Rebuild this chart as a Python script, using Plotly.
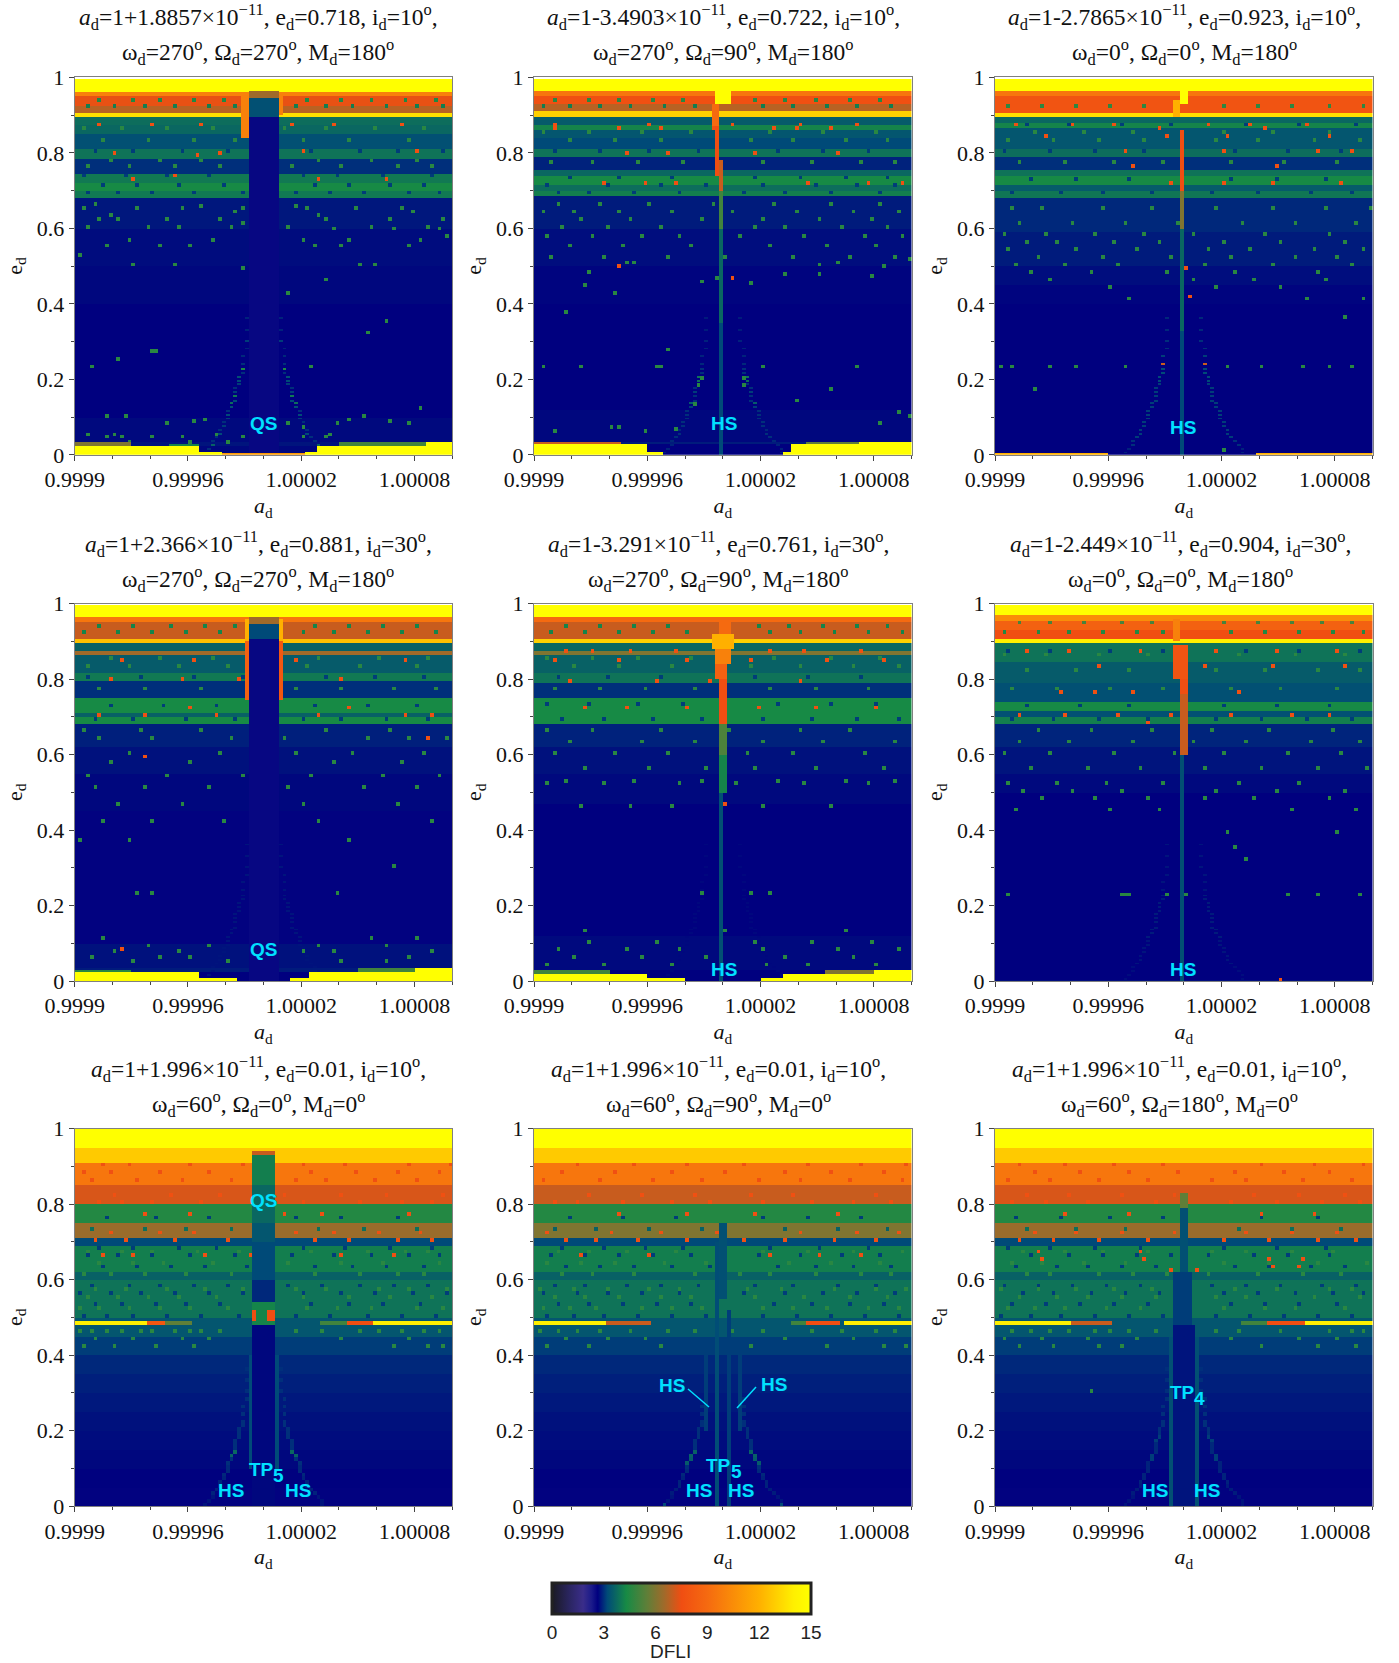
import numpy as np
import plotly.graph_objects as go

W, H = 1399, 1663
COL_X = [74.7, 534.0, 995.0]
ROW_Y = [77.3, 603.5, 1128.6]
SIZE = 377.5

X_TICKS = [0.9999, 0.99996, 1.00002, 1.00008]
X_TICK_TEXT = ["0.9999", "0.99996", "1.00002", "1.00008"]
Y_TICKS = [0, 0.2, 0.4, 0.6, 0.8, 1]
Y_TICK_TEXT = ["0", "0.2", "0.4", "0.6", "0.8", "1"]
CBAR_TICKS = [0, 3, 6, 9, 12, 15]

TITLE_A = ["1+1.8857", "1-3.4903", "1-2.7865", "1+2.366", "1-3.291", "1-2.449", "1+1.996", "1+1.996", "1+1.996"]
TITLE_E = ["0.718", "0.722", "0.923", "0.881", "0.761", "0.904", "0.01", "0.01", "0.01"]
TITLE_I = [10, 10, 10, 30, 30, 30, 10, 10, 10]
TITLE_W = [270, 270, 0, 270, 270, 0, 60, 60, 60]
TITLE_O = [270, 90, 0, 270, 90, 0, 0, 90, 180]
TITLE_M = [180, 180, 180, 180, 180, 180, 0, 0, 0]
TITLE_CX = [258, 723, 1184, 258, 718, 1180, 258, 718, 1179]

# step profiles of DFLI against e_d: upper band edge, value
P1_E = [.003,.024,.035,.1,.4,.5,.6,.68,.70,.72,.745,.785,.81,.85,.875,.895,.906,.925,.95,.962,.995]
P1_V = [2.7,2.7,2.8,2.72,2.65,2.7,2.74,2.82,4.0,4.3,4.0,3.0,3.9,3.3,3.7,3.8,13.5,6.8,7.4,10,15]
P2_E = [.028,.036,.12,.4,.5,.6,.685,.70,.715,.74,.755,.79,.81,.84,.86,.875,.896,.908,.932,.95,.967,.995]
P2_V = [2.65,2.85,2.7,2.65,2.68,2.75,2.85,4.1,3.8,4.3,3.7,2.9,3.9,3.2,3.4,4.2,3.5,13,6.8,7.6,9.5,15]
P3_E = [.003,.4,.45,.5,.59,.68,.70,.715,.74,.755,.79,.81,.865,.88,.895,.905,.95,.967,.995]
P3_V = [2.65,2.65,2.68,2.75,2.85,2.95,3.95,3.5,4.3,3.9,3.0,3.8,3.4,4.2,3.7,13.5,7.8,9.5,15]
P4_E = [.023,.033,.1,.45,.55,.62,.68,.70,.71,.75,.795,.815,.865,.875,.89,.897,.907,.95,.965,.995]
P4_V = [2.65,2.85,2.78,2.62,2.7,2.78,2.88,4.3,3.6,4.3,3.0,4.0,3.5,6.5,3.6,3.6,12.5,7,9.5,15]
P5_E = [.03,.12,.47,.55,.62,.68,.75,.79,.815,.865,.875,.89,.897,.907,.95,.965,.995]
P5_V = [2.65,2.72,2.65,2.72,2.78,2.9,4.3,3.0,3.9,3.6,6,3.7,3.7,13,7,9,15]
P6_E = [.005,.5,.55,.62,.68,.70,.715,.74,.79,.845,.895,.906,.93,.955,.97,.995]
P6_V = [2.75,2.65,2.72,2.8,2.92,4.1,3.3,4.3,3.3,3.5,3.9,14,7.5,8.5,10.5,15]
P7_E = [.05,.1,.15,.2,.25,.3,.35,.4,.45,.485,.495,.6,.62,.695,.71,.75,.795,.85,.91,.95,.995]
P7_V = [2.62,2.66,2.7,2.74,2.78,2.83,2.88,2.95,3.1,3.4,3.4,3.9,3.6,4.1,3.2,6.4,4.5,7.2,9.5,12.8,15]
P8_E = P7_E
P8_V = [2.62,2.66,2.7,2.74,2.78,2.83,2.88,2.95,3.1,3.4,3.4,3.9,3.6,4.1,3.2,6.0,4.5,7.0,9.5,12.8,15]
P9_E = P7_E
P9_V = [2.62,2.66,2.7,2.74,2.78,2.83,2.88,2.95,3.1,3.4,3.4,3.9,3.6,4.1,3.2,6.4,4.5,7.2,9.5,12.8,15]

# rectangles: a-1 from, a-1 to (1e-5), e from, e to, DFLI
P1_RECTS = [(-10,-3.36,0,.024,15),(-3.36,-2.2,0,.012,15),(-2.2,2.2,0,.003,11),(2.25,2.9,0,.012,15),(2.9,8.7,0,.024,15),(8.7,10,0,.033,15),
            (-10,-7,.024,.034,6),(-5,-3.4,.024,.03,4.2),(4,8.7,.024,.034,5),
            (-.85,.85,.003,.897,2.55),(-.85,.85,.897,.965,3.3),(-.85,.85,.945,.965,6.5),(-1.1,-.8,.84,.96,10),(.8,1.1,.9,.96,10)]
P2_RECTS = [(-10,-4.04,0,.028,15),(-4.04,-3.15,0,.012,15),(3.28,3.7,0,.012,15),(3.7,7.3,0,.028,15),(7.3,10,0,.036,15),
            (-10,-5.4,.028,.036,7),(4.5,7.3,.028,.034,5.5),(-.4,.4,.93,.975,15),
            (-.2,0,0,.35,3.2),(-.2,0,.35,.6,3.7),(-.2,0,.6,.7,5),(-.4,-.2,.74,.88,7.5),(-.2,.0,.7,.78,7),(-.6,-.2,.87,.93,9)]
P3_RECTS = [(-10,-3.9,0,.003,12),(3.8,10,0,.003,12),(-.2,.2,.93,.97,15),(-.2,0,0,.33,3.2),(-.2,0,.33,.6,3.7),(-.2,0,.6,.7,6),(-.2,.0,.7,.86,7.5),(-.6,-.2,.895,.94,12)]
P4_RECTS = [(-10,-3.4,0,.023,15),(-3.4,-1.43,0,.012,15),(1.4,2.5,0,.012,15),(2.5,8,0,.023,15),(8,10,0,.033,15),
            (-10,-7,.023,.03,4.6),(5.1,8,.023,.033,5),(8,10,.033,.037,12),
            (-.75,.72,0,.905,2.55),(-.75,.72,.905,.965,3.2),(-.75,.72,.945,.965,6.5),(-1.0,-.75,.9,.96,12),(-1.0,-.75,.745,.9,8.5),(.72,1.0,.9,.96,12),(.72,1.0,.745,.9,8)]
P5_RECTS = [(-10,-3.9,0,.018,15),(-3.9,-2,0,.012,15),(2,3.2,0,.012,15),(3.2,8.1,0,.018,15),(8.1,10,0,.03,15),
            (-10,-6,.018,.03,5),(5.5,8.1,.018,.03,6),(-.2,0,0,.5,3.3),(-.2,.2,.5,.6,4.2),(-.2,.2,.6,.68,5.2),
            (-.2,.2,.68,.76,7.5),(-.2,.2,.76,.8,7.5),(-.4,.2,.8,.84,8.5),(-.4,.4,.84,.88,10),(-.6,.6,.88,.92,12),(-.2,.4,.92,.95,9)]
P6_RECTS = [(-.2,0,0,.6,3.3),(-.2,.2,.6,.76,7),(-.2,.2,.76,.8,7.5),(-.6,.2,.8,.89,7.8),(-.6,-.2,.9,.96,10)]
P7_RECTS = [(-10,-6.1,.485,.495,14),(-6.1,-5.2,.485,.495,8),(-5.2,-3.8,.485,.495,5.5),(3,4.5,.485,.495,5),(4.5,5.8,.485,.495,7.5),(5.8,10,.485,.495,14),
            (-.63,.51,.54,.6,2.95),(-.63,.51,.6,.7,3.2),(-.63,.51,.7,.75,3.4),(-.63,.51,.75,.85,3.7),(-.63,.51,.85,.93,4.1),(-.63,.51,.93,.945,7),
            (-.63,.51,.0,.485,2.7),(-.63,.51,.485,.54,4.2),(-.63,-.3,.49,.52,7.5),(.2,.51,.49,.52,7.5),(-.9,-.63,.1,.4,3.2),(.51,.8,.1,.4,3.2)]
P8_RECTS = [(-10,-6.1,.485,.495,14),(-6.1,-3.8,.485,.495,7),(3.6,4.5,.485,.495,5),(4.5,6.2,.485,.495,7.5),(6.5,10,.485,.495,14),
            (-.4,-.2,0,.7,3.25),(.2,.4,0,.52,3.1),(-1,-.8,.2,.42,3.1),(.8,1,.2,.42,3.1),(-.2,.2,.55,.75,3.3)]
P9_RECTS = [(-10,-6,.485,.495,14),(-6,-3.8,.485,.495,7),(3,4.5,.485,.495,5),(4.5,6.4,.485,.495,7.5),(6.4,10,.485,.495,14),
            (-.6,.6,.0,.485,2.8),(-.6,.4,.485,.62,3.1),(-.2,.2,.62,.795,3.3),(-.2,.2,.795,.83,5.5),(-.8,-.6,.0,.45,3.3),(.6,.8,.0,.45,3.3)]

# faint wing curves: e_d, |a-1| in 1e-5
WING_E = [.005,.015,.025,.035,.045,.055,.065,.075,.085,.095,.105,.115,.125,.135,.145,.155,.165,.175,.185,.195,.205,.215,.225,.24,.26,.28,.30,.33,.36]
WING_A = [3.2,3.0,2.8,2.65,2.5,2.35,2.25,2.15,2.05,1.95,1.85,1.8,1.7,1.65,1.6,1.5,1.45,1.4,1.35,1.3,1.25,1.2,1.15,1.1,1.05,1.0,.95,.9,.85]
P1_WING_V = [3.0,3.0,3.6,3.0,3.0,3.2,3.0,3.1,3.0,3.1,3.2,3.0,3.3,3.8,3.2,4.0,3.1,3.0,3.1,3.2,3.3,3.0,4.4,3.0,2.95,2.9,3.1,2.9,2.9]
P2_WING_V = [2.9,2.9,2.9,2.95,3.0,3.0,2.95,3.0,3.0,3.0,3.0,3.0,3.1,3.5,3.0,3.0,3.1,3.0,3.0,3.8,3.9,3.0,3.0,2.95,2.9,2.9,2.9,2.85,2.85]
P3_WING_V = [2.9,2.9,3.0,3.0,3.1,3.1,3.1,3.1,3.1,3.1,3.1,3.1,3.1,3.1,3.1,3.1,3.1,3.1,3.1,3.2,3.2,3.2,3.2,7.0,3.1,3.0,3.0,2.95,2.95]
P4_WING_V = [2.8,2.8,2.8,2.8,2.8,2.8,2.8,2.8,2.8,2.8,2.8,2.8,2.8,2.8,2.8,2.8,2.8,2.8,2.8,2.8,2.8,2.8,2.8,2.8,2.8,2.8,2.8,2.8,2.8]
P5_WING_V = [2.7,2.7,2.7,2.7,2.7,2.7,2.7,2.7,2.7,2.7,2.7,2.7,2.7,2.7,2.7,2.7,2.7,2.7,2.7,2.7,2.7,2.7,2.7,2.7,2.7,2.7,2.7,2.7,2.7]
P6_WING_V = [2.75,2.75,2.75,2.75,2.8,2.8,2.8,2.8,2.8,2.8,2.8,2.85,2.85,2.85,2.85,2.85,2.85,2.85,2.85,2.85,2.85,2.85,2.85,2.8,2.8,2.8,2.8,2.8,2.8]
P7_WING_V = [2.8,2.8,2.8,2.9,2.9,2.9,2.9,2.9,2.95,2.95,2.95,3.0,3.0,3.6,3.7,3.0,3.0,3.0,3.0,3.0,3.0,3.0,3.0,3.0,3.0,3.0,3.0,3.0,3.0]
P8_WING_V = [3.2,2.8,2.8,2.85,2.85,2.9,2.9,2.9,2.95,2.95,3.0,3.5,3.5,3.6,3.6,3.0,3.0,3.0,3.0,3.0,3.0,3.0,3.0,3.0,3.0,3.0,3.0,3.0,3.0]
P9_WING_V = [2.8,2.8,2.8,2.85,2.85,2.85,2.9,2.9,2.9,2.9,2.9,2.9,3.1,3.1,2.95,2.95,2.95,3.1,3.1,3.0,3.0,3.0,3.0,3.0,3.0,3.0,3.0,3.0,3.0]

# individually legible cells: {e_d: [column 0-99]}
P1_DOTS = {.03:[14,30,40,52],.045:[8,12,20,28,44,60,66],.05:[3,10,37,67],.07:[60],.08:[24,69,56,88],.088:[31,83],.09:[34,72],.1:[8,13,76,50],.122:[91],.234:[4,62],.25:[11],.27:[20,21],.32:[77],.35:[82],
           .428:[56],.463:[66],.494:[44],.5:[26,79],.503:[15,75],.525:[1],.547:[46],.578:[98],.596:[68,84,96],.613:[44],.622:[6,38],.63:[9,64],.64:[89],.644:[42],.657:[33,58],.66:[5],
           .55:[8,22,30,52,63,70,88],.57:[14,36,47,60,72,91],.6:[3,19,27,41,56,78,93],.62:[11,24,49,66,83,97],.65:[2,16,28,44,61,74,86],.76:[3,14,26,38,57,70,85,94],.83:[7,19,31,42,60,72,88],.86:[2,12,24,36,55,66,79,92],.775:[9,22,33,64,78,90]}
P1_HOT = {.728:[15,64,82],.737:[26],.795:[10,38],.79:[32],.8:[60,90],.843:[46],.87:[6,20,33,57,68,86],.913:[46]}
P1_DARK = {.69:[3,11,20,31,44,58,67,76,88,96],.71:[7,16,27,39,63,72,83,92],.735:[2,13,24,35,60,69,81,94],.8:[5,15,28,40,62,75,85,97],.92:[3,10,18,26,35,42,58,66,73,82,90,97],.935:[6,15,22,31,39,61,70,78,87,95]}
P2_DOTS = {.06:[5,29],.066:[37],.072:[20,22],.081:[91],.1:[99],.112:[96],.132:[42],.143:[69],.172:[78],.184:[43,55],.203:[44,55],.234:[2,12,32,33,60,85],.275:[35],.377:[8],.425:[21],.447:[13],.453:[57],.457:[44],.47:[48],.471:[89],.476:[66,75],.484:[14],.498:[92],.503:[75],.507:[24,26,80],.515:[99],
           .52:[4,18,35,50,68,83,95],.55:[9,23,41,62,77,90],.58:[3,15,28,38,54,71,87,97],.6:[7,19,33,58,66,81,93],.62:[12,25,44,60,75,89],.64:[2,10,22,36,52,69,84,96],.66:[6,17,30,47,63,78,91],.77:[4,15,27,39,60,73,86,95],.83:[9,21,33,57,68,82,93],.85:[2,14,28,41,62,76,90]}
P2_HOT = {.466:[52],.498:[22],.715:[18,29,37,72,88,97],.795:[24,35,58,80],.86:[5,22,33,47,63,69,78],.87:[5,30,52,70,85]}
P2_DARK = {.69:[6,14,26,38,55,66,78,91],.71:[3,19,33,45,60,74,85,95],.73:[9,22,36,58,70,82,93],.8:[5,17,30,43,64,76,88],.92:[2,9,17,25,34,42,60,68,77,85,94],.94:[5,14,22,31,39,58,66,74,83,91]}
P3_DOTS = {.01:[60],.17:[10],.234:[1,4,14,21,34,61,70,81,88,94],.36:[92],.41:[35,82,97],.44:[30,58,75],.46:[14,52,68,87],.48:[9,25,45,63,85],.5:[5,18,32,55,73,94],.52:[11,28,46,62,79,90],.54:[3,21,37,56,67,84,97],.56:[8,16,31,43,60,75,92],.585:[2,13,26,39,52,71,88],.61:[6,20,34,48,65,79,95],.65:[4,12,28,41,58,73,87,99],.77:[6,18,31,44,62,76,90],.83:[3,15,27,39,58,69,84,96],.85:[10,23,36,60,73,88]}
P3_HOT = {.415:[51],.49:[50],.715:[46,60,73,91],.76:[36,74],.8:[34,60,85,94],.84:[13,45,61,88],.87:[5,20,31,56,67,82],.86:[43,71]}
P3_DARK = {.69:[4,17,28,41,57,69,83,94],.725:[9,21,35,62,74,87],.8:[2,14,26,39,63,77,91],.87:[8,19,33,46,66,80,95],.92:[3,12,21,30,39,60,69,78,88,97]}
P4_DOTS = {.05:[15,40,70,82],.06:[4,22,30,50,88],.075:[10,27,60,68,94],.09:[19,35,64,82],.11:[7,78,90],.234:[16,20,69],.3:[84],.37:[1,14,53,72],.42:[7,20,39,64,94],.47:[11,28,48,60,85],.51:[5,18,35,56,76,90],.54:[3,24,44,62,81,96],.58:[9,30,50,68,86],.6:[14,38,58,73,92],.64:[6,20,41,55,77,88,98],.66:[2,17,33,46,66,83],.77:[6,18,33,58,70,84,95],.83:[3,14,27,40,61,75,90],.85:[9,22,36,64,80,93]}
P4_HOT = {.08:[12],.7:[6,18,37,64,87,94],.72:[30,47,72],.595:[18],.64:[93],.795:[9,28,43,70],.845:[12,31,58,87]}
P4_DARK = {.69:[5,15,29,42,60,70,82,93],.725:[9,23,37,63,77,90],.8:[3,17,31,44,66,79,92],.92:[2,11,20,29,38,60,68,77,86,95],.94:[6,15,25,34,42,63,72,81,90]}
P5_DOTS = {.04:[3,18,36,61,72,90],.06:[10,28,45,66,84],.08:[6,24,38,60,80,96],.1:[14,32,58,73,89],.13:[13,50,82],.23:[44,57,62],.46:[12,25,36,60,78],.52:[3,18,38,53,71,88],.525:[8,26,44,64,82,95],.56:[13,30,45,58,74,92],.6:[5,21,35,56,68,87],.63:[9,28,42,60,76,95],.66:[3,15,33,51,70,83],.77:[5,17,29,42,62,74,88],.83:[10,22,36,57,70,84,96],.85:[3,15,27,41,63,78,91]}
P5_HOT = {.47:[50],.72:[13,24,40,59,74,90],.79:[9,32,46,70],.845:[5,22,40,57,77,92],.87:[8,15,25,37,62,71,86]}
P5_DARK = {.69:[7,18,31,44,60,73,85,96],.73:[3,14,27,39,64,78,90],.8:[6,19,33,58,72,86],.92:[4,13,22,31,40,62,70,79,88,97],.94:[8,17,26,35,59,67,76,85,93]}
P6_DOTS = {.226:[3,33,34,35,45,50,77,85,96],.32:[66],.35:[63],.39:[61,90],.45:[5,30,43,78,95],.48:[12,26,40,55,68,88],.5:[7,20,33,58,74,92],.52:[3,16,29,44,64,80],.56:[9,24,38,55,70,85,98],.6:[2,14,31,47,60,77,91],.63:[6,19,36,52,66,83,96],.66:[11,25,41,57,72,89],.77:[4,16,30,44,62,75,90],.82:[8,21,35,58,71,85,96],.86:[2,13,27,40,64,79,92]}
P6_HOT = {.003:[75],.68:[40],.7:[6,18,32,46,62,78,88],.76:[17,26,36,64],.83:[27,55,73,92],.87:[8,19,38,58,74,90]}
P6_DARK = {.69:[4,15,27,40,58,70,82,94],.725:[8,22,35,60,74,88],.87:[3,14,30,44,66,80,96],.92:[2,11,19,28,37,44,62,71,80,89,97],.945:[6,14,23,33,41,60,69,78,86,94]}
P7_DOTS = {.42:[2,10,21,31,84,93,97],.44:[5,15,28,35,70,88],.46:[1,8,20,26,33,65,80,92],.47:[4,12,17,30,38,58,75,86,96],
           .52:[1,6,14,22,30,40,61,69,78,90,97],.55:[3,11,19,27,37,60,72,83,94],.58:[5,13,24,34,44,58,66,80,88,98],.61:[2,9,18,29,41,63,75,85,92],.64:[6,15,23,36,47,56,70,81,96],.67:[3,12,20,32,43,62,77,87,93]}
P7_HOT = {.66:[7,15,34,46,70,84],.70:[5,13,26,40,63,72,85,94],.72:[9,22,31,58,68,80,91],.77:[18,30,55,65,88],.8:[6,12,20,33,47,60,75,86,94],.82:[10,25,38,55,70,82,97],.86:[4,16,28,41,58,66,79,90],.88:[2,9,22,35,48,62,74,85,96],.9:[7,14,30,44,60,71,88,99]}
P7_DARK = {.5:[2,8,15,24,33,43,58,67,77,86,95],.53:[5,12,21,29,38,62,72,81,91],.56:[1,9,17,26,35,44,60,70,79,89,98],.59:[4,14,22,31,40,56,65,75,84,93],.63:[7,16,25,34,45,63,73,82,92],.66:[3,11,20,30,42,57,68,78,88,96],.68:[6,15,27,37,60,71,83,94],.73:[4,18,29,41,64,76,90],.76:[8,21,35,58,70,85]}
P8_DOTS = {.42:[3,14,33,57,77,92,98],.44:[8,19,29,48,66,84],.46:[1,11,25,42,60,81,90],.47:[6,17,35,52,73,95],
           .52:[2,9,16,28,36,44,60,68,77,88,96],.55:[5,13,22,33,41,58,71,83,93],.58:[1,10,19,30,38,56,65,79,90,98],.61:[7,15,26,42,54,62,74,86,94],.64:[3,12,21,34,45,67,78,91],.67:[6,14,24,37,50,60,72,84,97]}
P8_HOT = {.66:[12,30,50,62,75,86],.70:[8,16,27,40,55,66,79,90],.72:[3,20,33,48,70,85,96],.77:[22,40,58,80],.8:[5,11,23,36,46,60,73,84,94],.82:[14,28,42,57,68,90],.86:[2,17,31,44,59,70,83,97],.88:[7,21,36,50,66,78,92],.9:[11,26,40,55,72,86,98]}
P8_DARK = {.5:[3,10,18,27,36,45,60,69,78,87,96],.53:[6,14,23,32,41,63,73,83,92],.56:[2,11,19,28,38,55,66,76,85,95],.59:[5,13,24,33,43,58,68,80,90],.63:[8,17,26,36,46,64,74,84,94],.66:[4,13,22,31,41,59,70,81,91],.68:[7,18,29,39,62,75,88],.73:[5,16,30,44,66,80,93],.76:[9,23,37,60,72,86]}
P9_DOTS = {.3:[25],.42:[6,15,27,33,70,85,95],.44:[2,12,24,37,62,80,90],.46:[9,19,30,42,58,75,97],.47:[4,14,26,35,64,88,94],
           .52:[3,10,18,29,38,60,71,79,92],.55:[6,16,24,33,42,58,66,84,96],.58:[1,11,21,31,41,63,74,88,94],.61:[8,14,27,36,45,56,69,81,91],.64:[4,12,23,34,60,72,85,98],.67:[7,18,28,40,57,66,78,89]}
P9_HOT = {.62:[46,53],.63:[73,80],.65:[12,39,72,81],.67:[11,38],.70:[6,15,27,40,60,72,85,95],.72:[10,21,33,47,66,78,90],.77:[18,35,70,84],.8:[4,13,24,42,62,74,86,96],.82:[8,19,33,47,68,80,92],.86:[3,14,27,40,57,66,81,94],.88:[10,22,35,48,63,76,88],.9:[6,18,31,44,70,84,97]}
P9_DARK = {.5:[1,9,17,26,35,44,58,67,76,85,94],.53:[4,13,22,31,40,62,71,80,90],.56:[7,15,25,34,43,60,69,79,89,97],.59:[2,11,20,29,38,57,66,75,86,95],.63:[5,16,24,33,42,63,72,83,92],.66:[9,19,28,37,46,56,68,77,88],.68:[3,14,26,38,60,74,87],.73:[8,21,34,64,78,91],.76:[5,17,30,44,70,85]}

PANEL_E = [P1_E, P2_E, P3_E, P4_E, P5_E, P6_E, P7_E, P8_E, P9_E]
PANEL_V = [P1_V, P2_V, P3_V, P4_V, P5_V, P6_V, P7_V, P8_V, P9_V]
PANEL_RECTS = [P1_RECTS, P2_RECTS, P3_RECTS, P4_RECTS, P5_RECTS, P6_RECTS, P7_RECTS, P8_RECTS, P9_RECTS]
PANEL_DOTS = [P1_DOTS, P2_DOTS, P3_DOTS, P4_DOTS, P5_DOTS, P6_DOTS, P7_DOTS, P8_DOTS, P9_DOTS]
PANEL_HOT = [P1_HOT, P2_HOT, P3_HOT, P4_HOT, P5_HOT, P6_HOT, P7_HOT, P8_HOT, P9_HOT]
PANEL_DARK = [P1_DARK, P2_DARK, P3_DARK, P4_DARK, P5_DARK, P6_DARK, P7_DARK, P8_DARK, P9_DARK]
PANEL_WING = [P1_WING_V, P2_WING_V, P3_WING_V, P4_WING_V, P5_WING_V, P6_WING_V, P7_WING_V, P8_WING_V, P9_WING_V]

N_COL = 100
SCALE = [(0, "#1a1a22"), (1.0, "#2a2560"), (1.8, "#3a2d8a"), (2.3, "#1a1a8a"), (2.65, "#00007f"), (3.2, "#004a78"),
         (4.3, "#178a45"), (5.5, "#5f7f38"), (6.5, "#a06a2a"), (7.5, "#f04e12"), (9, "#f56a10"), (12, "#ffb000"), (14, "#fff000"), (15, "#ffff00")]

FONT = "Liberation Serif"
CYAN = "#00e0ff"


def put(z, e0, c, v, de, n_row, tall):
    i = min(int(e0 / de), n_row - 1)
    z[i, c] = v
    if tall and i + 1 < n_row:
        z[i + 1, c] = v


def panel_matrix(k):
    n_row = 200 if k < 6 else 100
    tall = k < 6
    de = 1.0 / n_row
    e = (np.arange(n_row) + .5) * de
    a = -10 + (np.arange(N_COL) + .5) * .2
    z = np.full((n_row, N_COL), np.nan)
    tops = np.array(PANEL_E[k])
    vals = np.array(PANEL_V[k], dtype=float)
    for i, ei in enumerate(e):
        j = np.searchsorted(tops, ei)
        if j < len(vals):
            z[i, :] = vals[j]
    for ew, aw, vw in zip(WING_E, WING_A, PANEL_WING[k]):
        i = min(int(ew / de), n_row - 1)
        for sign in (-1, 1):
            z[i, int((sign * aw + 10) / .2)] = vw
    for e0, cols in PANEL_DARK[k].items():
        for c in cols:
            i = min(int(e0 / de), n_row - 1)
            put(z, e0, c, max(3.1, .6 * z[i, c]), de, n_row, tall)
    for table, v in ((PANEL_DOTS[k], 4.6), (PANEL_HOT[k], 7.6)):
        for e0, cols in table.items():
            for c in cols:
                put(z, e0, c, v, de, n_row, tall)
    for a0, a1, e0, e1, v in PANEL_RECTS[k]:
        mask_a = (a >= a0) & (a < a1)
        mask_e = (e >= e0) & (e < e1)
        z[np.ix_(mask_e, mask_a)] = v
    return 1 + a * 1e-5, e, z


fig = go.Figure()
layout = {}
ann = []
shapes = []


def px(x):
    return x / W


def py(y):
    return 1 - y / H


def label(text, x, y, size=19):
    ann.append(dict(text=text, x=px(x), y=py(y), xref="paper", yref="paper", showarrow=False,
                    xanchor="center", yanchor="middle",
                    font=dict(family="Liberation Sans", size=size, color=CYAN, weight="bold")))


for k in range(9):
    col, row = k % 3, k // 3
    sx = "" if k == 0 else str(k + 1)
    a, e, z = panel_matrix(k)
    fig.add_trace(go.Heatmap(x=a, y=e, z=z, coloraxis="coloraxis", xaxis="x" + sx, yaxis="y" + sx, hoverongaps=False))
    left, top = COL_X[col], ROW_Y[row]
    axis_common = dict(showgrid=False, zeroline=False, showline=True, linecolor="#808080", linewidth=1,
                       mirror=True, ticks="outside", tickcolor="#444444", ticklen=5, tickwidth=1,
                       tickfont=dict(family=FONT, size=22, color="#111111"))
    layout["xaxis" + sx] = dict(axis_common, anchor="y" + sx, domain=[px(left), px(left + SIZE)], range=[0.9999, 1.0001],
                                tickmode="array", tickvals=X_TICKS, ticktext=X_TICK_TEXT,
                                minor=dict(tickmode="array", tickvals=[0.99992, 0.99994, 0.99998, 1.0, 1.00004, 1.00006, 1.0001],
                                           ticks="outside", ticklen=3, tickcolor="#444444"),
                                title=dict(text="<i>a</i><sub>d</sub>", font=dict(family=FONT, size=22, color="#111111"), standoff=6))
    layout["yaxis" + sx] = dict(axis_common, anchor="x" + sx, domain=[py(top + SIZE), py(top)], range=[0, 1],
                                tickmode="array", tickvals=Y_TICKS, ticktext=Y_TICK_TEXT,
                                minor=dict(tickmode="array", tickvals=[.1, .3, .5, .7, .9], ticks="outside", ticklen=3, tickcolor="#444444"),
                                title=dict(text="e<sub>d</sub>", font=dict(family=FONT, size=22, color="#111111"), standoff=8))
    line1 = (f"<i>a</i><sub>d</sub>={TITLE_A[k]}×10<sup>−11</sup>, e<sub>d</sub>={TITLE_E[k]}, "
             f"i<sub>d</sub>={TITLE_I[k]}<sup>o</sup>,")
    line2 = f"ω<sub>d</sub>={TITLE_W[k]}<sup>o</sup>, Ω<sub>d</sub>={TITLE_O[k]}<sup>o</sup>, M<sub>d</sub>={TITLE_M[k]}<sup>o</sup>"
    for text, dy in ((line1, -60), (line2, -25)):
        ann.append(dict(text=text, x=px(TITLE_CX[k]), y=py(top + dy), xref="paper", yref="paper", showarrow=False,
                        xanchor="center", yanchor="middle", font=dict(family=FONT, size=23.5, color="#111111")))

label("QS", 263, 423); label("HS", 724, 423); label("HS", 1183, 427)
label("QS", 263, 949); label("HS", 724, 970); label("HS", 1183, 970)
label("QS", 263, 1200); label("TP", 261, 1469); label("5", 278, 1475); label("HS", 231, 1490); label("HS", 298, 1490)
label("HS", 672, 1385); label("HS", 774, 1384); label("TP", 719, 1465); label("5", 736, 1471); label("HS", 699, 1490); label("HS", 741, 1490)
label("TP", 1182, 1392); label("4", 1199, 1398); label("HS", 1155, 1490); label("HS", 1207, 1490)
for x0, y0, x1, y1 in ((688, 1389, 709, 1407), (756, 1387, 737, 1408)):
    shapes.append(dict(type="line", xref="paper", yref="paper", x0=px(x0), y0=py(y0), x1=px(x1), y1=py(y1),
                       line=dict(color=CYAN, width=1.5)))
ann.append(dict(text="DFLI", x=px(670), y=py(1651), xref="paper", yref="paper", showarrow=False, xanchor="center", yanchor="middle",
                font=dict(family="Liberation Sans", size=19, color="#222222")))

fig.update_layout(
    width=W, height=H, margin=dict(l=0, r=0, t=0, b=0, autoexpand=False), paper_bgcolor="white", plot_bgcolor="white",
    showlegend=False, annotations=ann, shapes=shapes,
    coloraxis=dict(cmin=0, cmax=15, colorscale=[[v / 15, c] for v, c in SCALE],
                   colorbar=dict(orientation="h", x=px(681.5), xanchor="center", y=py(1583), yanchor="top",
                                 lenmode="pixels", len=259, thicknessmode="pixels", thickness=31,
                                 outlinewidth=3, outlinecolor="#222222", xpad=0, ypad=0,
                                 tickmode="array", tickvals=CBAR_TICKS, ticks="", tickfont=dict(family="Liberation Sans", size=19, color="#222222"))),
    **layout,
)
fig.write_html("out.html", config={"displayModeBar": False}, post_script="document.body.style.margin='0';")
